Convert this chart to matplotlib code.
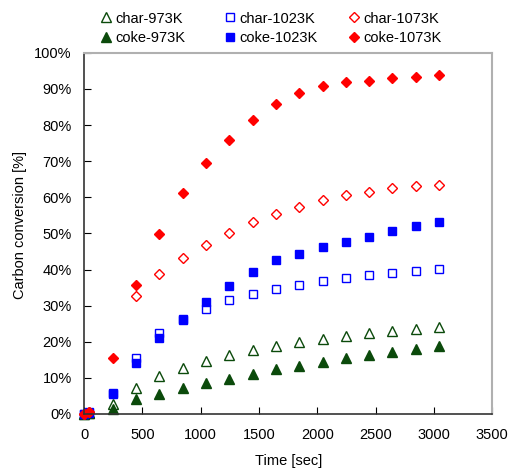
import numpy as np
import matplotlib
matplotlib.use('Agg')
from matplotlib import pyplot as plt
from matplotlib.legend import Legend
from matplotlib.ticker import FuncFormatter

plt.rcParams['font.family'] = ['Liberation Sans', 'DejaVu Sans']

t = [0, 45, 245, 445, 645, 845, 1045, 1245, 1445, 1645, 1845, 2045, 2245, 2445, 2645, 2845, 3045]

char_973 = [0, 0.3, 2.8, 7.3, 10.5, 12.7, 14.7, 16.2, 17.7, 18.9, 20.0, 20.8, 21.5, 22.3, 23.0, 23.6, 24.1]
coke_973 = [0, 0.2, 1.4, 4.1, 5.6, 7.2, 8.5, 9.8, 11.1, 12.4, 13.4, 14.5, 15.6, 16.4, 17.2, 17.9, 18.9]
char_1023 = [0, 0.4, 5.9, 15.4, 22.3, 26.0, 29.1, 31.5, 33.2, 34.5, 35.8, 36.7, 37.6, 38.4, 38.9, 39.7, 40.2]
coke_1023 = [0, 0.3, 5.5, 14.0, 21.0, 26.2, 30.9, 35.3, 39.4, 42.6, 44.3, 46.1, 47.6, 49.1, 50.7, 52.0, 53.2]
t_c1073 = [0, 45, 445, 645, 845, 1045, 1245, 1445, 1645, 1845, 2045, 2245, 2445, 2645, 2845, 3045]
char_1073 = [0, 0.5, 32.7, 38.7, 43.1, 46.9, 50.2, 53.1, 55.4, 57.4, 59.2, 60.5, 61.5, 62.6, 63.1, 63.5]
coke_1073 = [0, 0.6, 15.6, 35.7, 49.9, 61.1, 69.4, 75.9, 81.5, 85.9, 89.0, 90.7, 91.8, 92.2, 93.1, 93.4, 93.9]

green = '#0b4a0b'
blue = '#0000ff'
red = '#ff0000'

fig = plt.figure(figsize=(5.1, 4.72), dpi=100)
ax = fig.add_axes([0.165, 0.123, 0.8, 0.765])

ms = 6.5
h1, = ax.plot(t, char_973, '^', mfc='none', mec=green, mew=1, ms=ms, label='char-973K', clip_on=False)
h2, = ax.plot(t, coke_973, '^', color=green, ms=ms, label='coke-973K', clip_on=False)
h3, = ax.plot(t, char_1023, 's', mfc='none', mec=blue, mew=1, ms=ms - 0.8, label='char-1023K', clip_on=False)
h4, = ax.plot(t, coke_1023, 's', color=blue, ms=ms - 0.8, label='coke-1023K', clip_on=False)
h5, = ax.plot(t_c1073, char_1073, 'D', mfc='none', mec=red, mew=1, ms=ms - 1.3, label='char-1073K', clip_on=False)
h6, = ax.plot(t, coke_1073, 'D', color=red, ms=ms - 1.3, label='coke-1073K', clip_on=False)

ax.set_xlim(0, 3500)
ax.set_ylim(0, 100)
ax.set_xticks(np.arange(0, 3501, 500))
ax.set_yticks(np.arange(0, 101, 10))
ax.yaxis.set_major_formatter(FuncFormatter(lambda v, p: '%d%%' % v))
ax.tick_params(direction='in', length=5, labelsize=10.5)
ax.tick_params(axis='x', pad=10)
ax.tick_params(axis='y', pad=9)

for s in ['left', 'bottom']:
    ax.spines[s].set_color('#333333')
    ax.spines[s].set_linewidth(1.2)
for s in ['top', 'right']:
    ax.spines[s].set_color('#b0b0b0')
    ax.spines[s].set_linewidth(1.5)

ax.set_xlabel('Time [sec]', fontsize=10.5, labelpad=9)
ax.set_ylabel('Carbon conversion [%]', fontsize=10.5)
ax.yaxis.set_label_coords(-0.14, 0.523)

# one legend per column so the columns sit at equal spacing
cols = [(h1, h2), (h3, h4), (h5, h6)]
xs = [0.015, 0.32, 0.624]
for hs, x in zip(cols, xs):
    lg = Legend(ax, hs, [h.get_label() for h in hs], loc='lower left', bbox_to_anchor=(x, 1.0),
                frameon=False, fontsize=10.5, handletextpad=0.15, labelspacing=0.36,
                borderaxespad=0.15, handlelength=1.0)
    ax.add_artist(lg)

fig.savefig('out.png', dpi=100)
